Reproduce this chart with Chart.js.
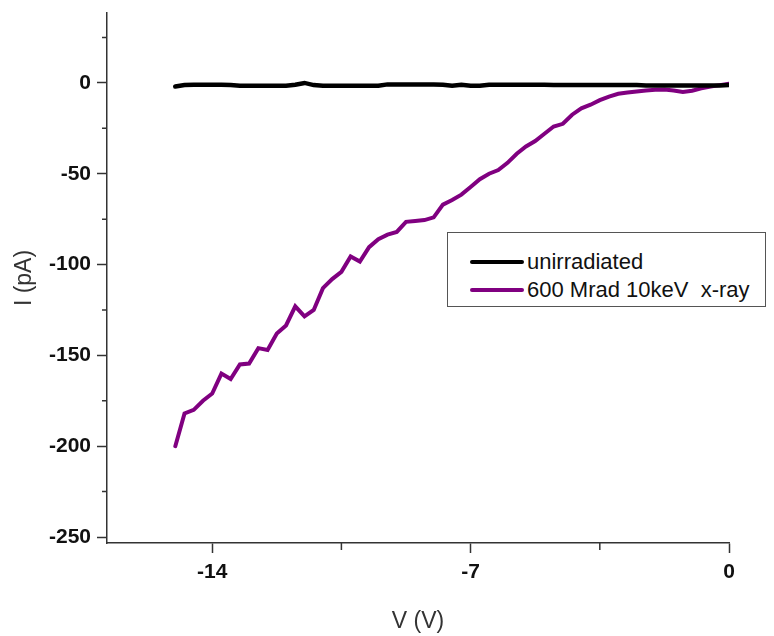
<!DOCTYPE html>
<html lang="en">
<head>
  <meta charset="UTF-8" />
  <title>I-V curve</title>
  <script src="https://cdn.jsdelivr.net/npm/chart.js"></script>
  <style>
    body { margin: 0; background: #fff; }
    .wrap { position: relative; width: 774px; height: 636px; }
    .legend {
      position: absolute; left: 447px; top: 232px; width: 319px; height: 75px;
      border: 1.5px solid #555; box-sizing: border-box; background: #fff;
      font-family: "Liberation Sans", Arial, sans-serif; font-size: 22px; color: #111;
    }
    .legend .row { position: absolute; left: 22px; height: 26px; display: flex; align-items: center; }
    .legend .sw { width: 54px; height: 4px; border-radius: 2px; margin-right: 3px; }
  </style>
</head>
<body>
  <div class="wrap">
    <canvas id="ivChart" width="774" height="636"></canvas>
    <div class="legend">
      <div class="row" style="top:16px"><span class="sw" style="background:#000"></span>unirradiated</div>
      <div class="row" style="top:44px"><span class="sw" style="background:#800080"></span>600 Mrad 10keV&nbsp; x-ray</div>
    </div>
  </div>

  <script>
    // bias voltage (V), 0.25 V steps from -15 to 0
    const voltage = [];
    for (let i = 0; i <= 60; i++) voltage.push(-15 + i * 0.25);

    const unirradiated = [
      -2, -1.2, -1, -1, -1, -1, -1.2, -1.6, -1.6, -1.6,
      -1.6, -1.6, -1.6, -1, 0, -1.2, -1.6, -1.6, -1.6, -1.6,
      -1.6, -1.6, -1.6, -0.8, -0.8, -0.8, -0.8, -0.8, -0.8, -1,
      -1.6, -1, -1.6, -1.6, -1, -1, -1, -1, -1, -1,
      -1, -1.2, -1.2, -1.2, -1.2, -1.2, -1.2, -1.2, -1.2, -1.2,
      -1.2, -1.4, -1.4, -1.4, -1.4, -1.4, -1.4, -1.4, -1.4, -1.4, -1.2
    ];

    const irradiated = [
      -200, -182, -180, -175, -171, -160, -163, -155, -154.5, -146,
      -147, -138, -133.5, -123, -128.5, -125, -113, -108, -104, -95.5,
      -98.3, -90.4, -86, -83.5, -82, -76.5, -76, -75.5, -74, -67,
      -64.5, -61.5, -57.3, -53, -50, -48, -44, -39, -35, -32,
      -28, -24, -22.5, -17.5, -14, -12, -9.5, -7.5, -6, -5.3,
      -4.7, -4.2, -3.8, -3.6, -4.2, -5, -4.3, -3, -2, -1.2, -0.5
    ];

    const xTicks = [-14, -7, 0];
    const xMinor = [-10.5, -3.5];
    const yTicks = [0, -50, -100, -150, -200, -250];
    const yMinor = [25, -25, -75, -125, -175, -225];

    const toPoints = (ys) => voltage.map((v, i) => ({ x: v, y: ys[i] }));

    const minorTicks = {
      id: "minorTicks",
      afterDraw(chart) {
        const ctx = chart.ctx;
        const xs = chart.scales.x, ys = chart.scales.y;
        ctx.save();
        ctx.strokeStyle = "#333";
        ctx.lineWidth = 1.5;
        ctx.beginPath();
        yMinor.forEach(v => {
          const py = ys.getPixelForValue(v);
          ctx.moveTo(xs.left, py); ctx.lineTo(xs.left - 5, py);
        });
        xMinor.forEach(v => {
          const px = xs.getPixelForValue(v);
          ctx.moveTo(px, ys.bottom); ctx.lineTo(px, ys.bottom + 7);
        });
        ctx.stroke();
        ctx.restore();
      }
    };

    const tickFont = { family: "'Liberation Sans', Arial, sans-serif", size: 21, weight: "bold" };
    const titleFont = { family: "'Liberation Sans', Arial, sans-serif", size: 23 };

    new Chart(document.getElementById("ivChart"), {
      type: "line",
      data: {
        datasets: [
          {
            label: "unirradiated",
            data: toPoints(unirradiated),
            borderColor: "#000",
            borderWidth: 4.5,
            pointRadius: 0,
            borderCapStyle: "round"
          },
          {
            label: "600 Mrad 10keV  x-ray",
            data: toPoints(irradiated),
            borderColor: "#800080",
            borderWidth: 4,
            pointRadius: 0,
            borderCapStyle: "round"
          }
        ]
      },
      options: {
        responsive: false,
        animation: false,
        layout: { padding: { left: 0, top: 13, right: 45, bottom: 0 } },
        plugins: { legend: { display: false }, tooltip: { enabled: false } },
        scales: {
          x: {
            type: "linear",
            min: -16.85,
            max: 0,
            afterBuildTicks: (s) => { s.ticks = xTicks.map(v => ({ value: v })); },
            afterFit: (s) => { s.height = 93; s.paddingLeft = 0; s.paddingRight = 0; },
            grid: { drawOnChartArea: false, drawTicks: true, tickLength: 10, color: "#333", tickWidth: 1.5 },
            border: { display: true, color: "#333", width: 1.5 },
            ticks: { color: "#111", font: tickFont, padding: 7, maxRotation: 0 },
            title: { display: true, text: "V (V)", color: "#333", font: titleFont, padding: { top: 0, bottom: 1 } }
          },
          y: {
            type: "linear",
            min: -253.3,
            max: 38.5,
            afterBuildTicks: (s) => { s.ticks = yTicks.map(v => ({ value: v })); },
            afterFit: (s) => { s.width = 107; s.paddingTop = 0; s.paddingBottom = 0; },
            grid: { drawOnChartArea: false, drawTicks: true, tickLength: 10, color: "#333", tickWidth: 1.5 },
            border: { display: true, color: "#333", width: 1.5 },
            ticks: { color: "#111", font: tickFont, padding: 6 },
            title: { display: true, text: "I (pA)", color: "#333", font: titleFont, padding: { top: 11, bottom: 0 } }
          }
        }
      },
      plugins: [minorTicks]
    });
  </script>
</body>
</html>
